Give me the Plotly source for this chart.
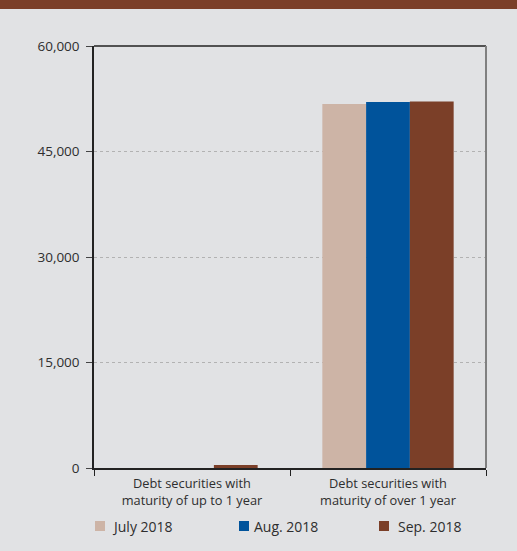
import plotly.graph_objects as go

categories = ["Debt securities with<br>maturity of up to 1 year",
              "Debt securities with<br>maturity of over 1 year"]
series_names = ["July 2018", "Aug. 2018", "Sep. 2018"]
july = [0, 51750]
aug = [0, 52050]
sep = [420, 52100]
colors = ["#CDB4A6", "#00539B", "#7B3F28"]
y_ticks = [0, 15000, 30000, 45000, 60000]
y_tick_labels = ["0", "15,000", "30,000", "45,000", "60,000"]

BG = "#E1E2E4"
FONT = "Open Sans"
TXT = "#2E2E2E"

fig = go.Figure()
for name, vals, col in zip(series_names, [july, aug, sep], colors):
    fig.add_trace(go.Bar(x=categories, y=vals, name=name, marker_color=col,
                         marker_line_width=0, showlegend=False))

W, H = 517, 551
L, R, T, B = 94, 31, 46, 83
pw, ph = W - L - R, H - T - B

def px_x(p):
    return (p - L) / pw

def px_y(p):
    return (H - B - p) / ph

shapes = [
    dict(type="rect", xref="paper", yref="paper", x0=px_x(0), x1=px_x(W),
         y0=px_y(9), y1=px_y(-2), fillcolor="#7B3F28", line_width=0, layer="above"),
    dict(type="line", xref="paper", yref="paper", x0=0, x1=1, y0=1, y1=1,
         line=dict(color="#222222", width=1.5)),
    dict(type="line", xref="paper", yref="paper", x0=1, x1=1, y0=0, y1=1,
         line=dict(color="#808080", width=2)),
]
annotations = []
legend_x = [95, 239, 379]
legend_text_x = [110, 252, 396]
for name, col, mx, tx in zip(series_names, colors, legend_x, legend_text_x):
    shapes.append(dict(type="rect", xref="paper", yref="paper",
                       x0=px_x(mx), x1=px_x(mx + 10), y0=px_y(531), y1=px_y(521),
                       fillcolor=col, line_width=0))
    annotations.append(dict(text=name, xref="paper", yref="paper", x=px_x(tx), y=px_y(526),
                            xanchor="left", yanchor="middle", showarrow=False,
                            font=dict(family=FONT, size=14, color=TXT)))

fig.update_layout(
    width=W, height=H,
    margin=dict(l=L, r=R, t=T, b=B, pad=0),
    paper_bgcolor=BG, plot_bgcolor=BG,
    barmode="group", bargap=0.33, bargroupgap=0,
    font=dict(family=FONT, size=12.5, color=TXT),
    showlegend=False,
    xaxis=dict(type="category", tickson="boundaries", ticks="outside", ticklen=6,
               tickcolor="#222222", tickwidth=1.3, showline=True, linecolor="#222222",
               linewidth=1.5, showgrid=False, ticklabelstandoff=3,
               tickfont=dict(size=12.8, color=TXT)),
    yaxis=dict(range=[0, 60000], tickvals=y_ticks, ticktext=y_tick_labels,
               ticks="outside", ticklen=6, tickcolor="#444444", tickwidth=1,
               showline=True, linecolor="#222222", linewidth=1.5, ticklabelstandoff=4,
               showgrid=True, gridcolor="#B2B2B2", griddash="dot", gridwidth=1,
               zeroline=False, tickfont=dict(size=13.5, color=TXT)),
    shapes=shapes,
    annotations=annotations,
)

fig.write_html("out.html", config={"displayModeBar": False},
               post_script="document.body.style.margin='0';")
